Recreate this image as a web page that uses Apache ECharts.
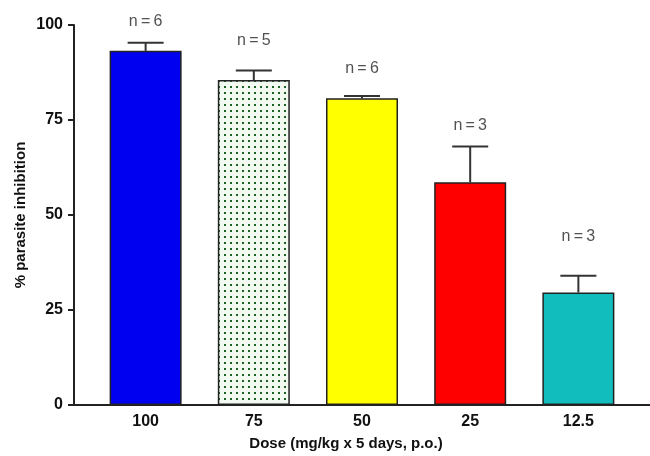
<!DOCTYPE html>
<html>
<head>
<meta charset="utf-8">
<script src="https://cdn.jsdelivr.net/npm/echarts@6/dist/echarts.min.js"></script>
<style>html,body{margin:0;padding:0;background:#fff;}#c{width:650px;height:456px;}</style>
</head>
<body>
<div id="c"></div>
<script>
// ---- data ----
var categories = ['100', '75', '50', '25', '12.5'];
var means = [93.2, 85.5, 80.7, 58.6, 29.6];
var upperErr = [2.1, 2.5, 0.6, 9.4, 4.4];
var nLabels = ['n=6', 'n=5', 'n=6', 'n=3', 'n=3'];
var nLabelLevel = [101, 95.9, 88.6, 73.4, 44.3];
var yTicks = [0, 25, 50, 75, 100];

// ---- styles ----
function dotPattern() {
  var c = document.createElement('canvas');
  c.width = 6; c.height = 6;
  var g = c.getContext('2d');
  g.fillStyle = '#f1f9f1';
  g.fillRect(0, 0, 6, 6);
  g.fillStyle = '#1a6226';
  g.fillRect(2, 2, 2, 2);
  return c;
}
var barColors = ['#0000f0', {image: dotPattern(), repeat: 'repeat'}, '#ffff00', '#ff0000', '#12bdbd'];
var font = '"Liberation Sans", Arial, sans-serif';
var ink = '#222';

var positions = categories.map(function (_, i) { return i + 1; });
var barData = means.map(function (v, i) {
  return {value: [positions[i], v], itemStyle: {color: barColors[i]}};
});
var errData = means.map(function (v, i) { return [positions[i], v, v + upperErr[i]]; });
var labelData = nLabelLevel.map(function (v, i) { return {value: [positions[i], v], name: nLabels[i]}; });

var chart = echarts.init(document.getElementById('c'), null, {renderer: 'canvas'});
chart.setOption({
  animation: false,
  backgroundColor: '#fff',
  grid: {left: 74, right: 0, top: 25, height: 380},
  xAxis: {
    type: 'value',
    min: 1 - 0.662,
    max: categories.length + 0.662,
    splitLine: {show: false},
    axisLine: {show: true, lineStyle: {color: ink, width: 2}},
    axisTick: {show: false},
    axisLabel: {
      customValues: positions,
      formatter: function (v) { return categories[Math.round(v) - 1] || ''; },
      fontFamily: font, fontWeight: 'bold', fontSize: 16, color: '#111', margin: 9
    },
    name: 'Dose (mg/kg x 5 days, p.o.)',
    nameLocation: 'middle',
    nameGap: 31,
    nameMoveOverlap: false,
    nameTextStyle: {fontFamily: font, fontWeight: 'bold', fontSize: 15, color: '#111', padding: [0, 32, 0, 0]}
  },
  yAxis: {
    type: 'value',
    min: 0, max: 100, interval: 25,
    splitLine: {show: false},
    axisLine: {show: true, lineStyle: {color: ink, width: 2}},
    axisTick: {show: true, length: 6, lineStyle: {color: ink, width: 2}},
    axisLabel: {fontFamily: font, fontWeight: 'bold', fontSize: 16, color: '#111', margin: 11,
      customValues: yTicks},
    name: '% parasite inhibition',
    nameLocation: 'middle',
    nameRotate: 90,
    nameGap: 46,
    nameMoveOverlap: false,
    nameTextStyle: {fontFamily: font, fontWeight: 'bold', fontSize: 15, color: '#111'}
  },
  series: [
    {
      type: 'bar',
      data: barData,
      barWidth: 72,
      itemStyle: {borderColor: ink, borderWidth: 1.5},
      z: 2
    },
    {
      type: 'custom',
      data: errData,
      z: 1,
      clip: false,
      renderItem: function (params, api) {
        var x = api.value(0);
        var base = api.coord([x, api.value(1)]);
        var top = api.coord([x, api.value(2)]);
        var half = 18;
        return {
          type: 'group',
          children: [
            {type: 'line', shape: {x1: base[0], y1: base[1], x2: top[0], y2: top[1]},
              style: {stroke: '#333', lineWidth: 2}},
            {type: 'line', shape: {x1: top[0] - half, y1: top[1], x2: top[0] + half, y2: top[1]},
              style: {stroke: '#333', lineWidth: 2}}
          ]
        };
      }
    },
    {
      type: 'scatter',
      data: labelData,
      symbolSize: 0,
      clip: false,
      label: {
        show: true, position: 'inside',
        formatter: function (p) { return p.name.replace('=', ' = ').replace(/ /g, '\u2009'); },
        fontFamily: font, fontSize: 16, color: '#262626'
      }
    }
  ]
});
</script>
</body>
</html>
